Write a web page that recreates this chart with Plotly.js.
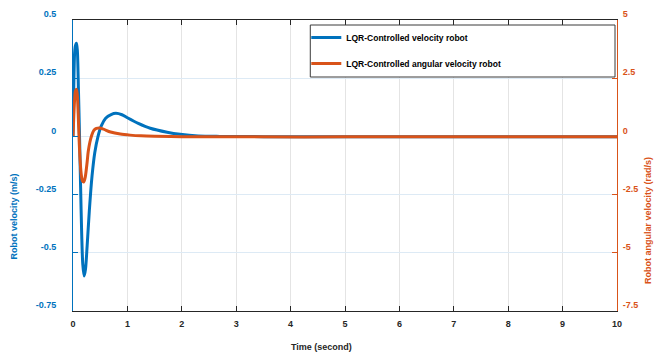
<!DOCTYPE html>
<html>
<head>
<meta charset="utf-8">
<script src="https://cdn.plot.ly/plotly-3.0.1.min.js"></script>
<style>html,body{margin:0;padding:0;background:#fff;}#chart{width:655px;height:356px;}</style>
</head>
<body>
<div id="chart"></div>
<script>
// ---- data ----
const timeVel = [0, 0.015, 0.03, 0.045, 0.064, 0.08, 0.10, 0.12, 0.14, 0.16, 0.18, 0.205, 0.23, 0.26, 0.30, 0.35, 0.40, 0.46, 0.52, 0.60, 0.70, 0.79, 0.90, 1.00, 1.20, 1.42, 1.73, 1.97, 2.3, 2.7, 3.5, 5, 7.5, 10];
const velocity = [0, 0.22, 0.36, 0.39, 0.40, 0.37, 0.20, 0.0, -0.22, -0.42, -0.55, -0.60, -0.57, -0.47, -0.32, -0.17, -0.07, 0.0, 0.045, 0.078, 0.094, 0.099, 0.093, 0.080, 0.056, 0.035, 0.018, 0.009, 0.002, 0.0, -0.001, -0.001, -0.001, -0.001];
const timeAng = [0, 0.015, 0.03, 0.045, 0.064, 0.08, 0.095, 0.11, 0.13, 0.15, 0.175, 0.20, 0.225, 0.26, 0.28, 0.31, 0.34, 0.38, 0.43, 0.49, 0.56, 0.69, 0.87, 1.05, 1.25, 1.5, 2.0, 3, 5, 10];
const angularVelocity = [0, 0.9, 1.6, 1.95, 2.02, 1.75, 1.0, 0.0, -1.0, -1.6, -1.92, -1.95, -1.75, -1.1, -0.65, -0.25, 0.02, 0.25, 0.34, 0.36, 0.31, 0.19, 0.10, 0.055, 0.025, 0.008, -0.01, -0.02, -0.02, -0.02];
const xTicks = [0, 1, 2, 3, 4, 5, 6, 7, 8, 9, 10];
const yTicks = [-0.75, -0.5, -0.25, 0, 0.25, 0.5];
const yTickText = ['-0.75', '-0.5', '-0.25', '0', '0.25', '0.5'];
const y2Ticks = [-7.5, -5, -2.5, 0, 2.5, 5];
const y2TickText = ['-7.5', '-5', '-2.5', '0', '2.5', '5'];
const seriesNames = ['LQR-Controlled velocity robot', 'LQR-Controlled angular velocity robot'];

const BLUE = '#0072BD', ORANGE = '#D95319', DARK = '#262626';
const FONT = '"Liberation Sans", Arial, sans-serif';

// plot area in pixels
const L = 72.5, R = 617, T = 20, B = 311, W = 655, H = 356;
const px = x => (x - L) / (R - L);
const py = y => (B - y) / (B - T);

const traces = [
  {x: timeVel, y: velocity, name: seriesNames[0], type: 'scatter', mode: 'lines',
   line: {color: BLUE, width: 3, shape: 'spline', smoothing: 0.8}, yaxis: 'y', legendgroup: 'a'},
  {x: timeAng, y: angularVelocity, name: seriesNames[1], type: 'scatter', mode: 'lines',
   line: {color: ORANGE, width: 3, shape: 'spline', smoothing: 0.8}, yaxis: 'y2', legendgroup: 'b'}
];

const layout = {
  width: W, height: H,
  margin: {l: L, r: W - R, t: T, b: H - B, pad: 0},
  paper_bgcolor: '#fff', plot_bgcolor: '#fff',
  font: {family: FONT, size: 9, color: DARK},
  showlegend: true,
  legend: {x: px(306), y: py(23), xanchor: 'left', yanchor: 'top', bgcolor: 'rgba(0,0,0,0)',
           borderwidth: 0, traceorder: 'grouped', tracegroupgap: 7,
           font: {family: FONT, size: 8.5, color: '#000', weight: 'bold'}},
  xaxis: {range: [0, 10], tickvals: xTicks, ticktext: xTicks.map(String),
          showgrid: true, gridcolor: '#e4e4e4', gridwidth: 1, zeroline: false,
          showline: true, linecolor: DARK, linewidth: 1, mirror: 'ticks',
          ticks: 'inside', ticklen: 5, tickcolor: DARK,
          tickfont: {family: FONT, size: 9, color: DARK, weight: 'bold'}, ticklabelstandoff: 4},
  yaxis: {range: [-0.75, 0.5], tickvals: yTicks, ticktext: yTickText,
          showgrid: true, gridcolor: '#ddeaf5', gridwidth: 1, zeroline: false,
          showline: true, linecolor: BLUE, linewidth: 1,
          ticks: 'inside', ticklen: 5, tickcolor: BLUE,
          tickfont: {family: FONT, size: 9, color: BLUE, weight: 'bold'},
          ticklabelstandoff: 14, ticklabelshift: -6},
  yaxis2: {range: [-7.5, 5], tickvals: y2Ticks, ticktext: y2TickText, overlaying: 'y', side: 'right',
           showgrid: false, zeroline: false, showline: true, linecolor: ORANGE, linewidth: 1,
           ticks: 'inside', ticklen: 5, tickcolor: ORANGE,
           tickfont: {family: FONT, size: 9, color: ORANGE, weight: 'bold'},
           ticklabelstandoff: 3, ticklabelshift: -6},
  shapes: [
    {type: 'rect', xref: 'paper', yref: 'paper', x0: px(310), x1: px(615), y0: py(77), y1: py(25),
     line: {color: '#3a3a3a', width: 1}, fillcolor: '#fff', layer: 'above'}
  ],
  annotations: [
    {text: 'Time (second)', xref: 'paper', yref: 'paper', x: px(321), y: py(347), showarrow: false,
     xanchor: 'center', yanchor: 'middle', font: {family: FONT, size: 9, color: DARK, weight: 'bold'}},
    {text: 'Robot velocity (m/s)', xref: 'paper', yref: 'paper', x: px(13), y: py(217), showarrow: false,
     textangle: -90, xanchor: 'center', yanchor: 'middle', font: {family: FONT, size: 9, color: BLUE, weight: 'bold'}},
    {text: 'Robot angular velocity (rad/s)', xref: 'paper', yref: 'paper', x: px(648), y: py(220), showarrow: false,
     textangle: -90, xanchor: 'center', yanchor: 'middle', font: {family: FONT, size: 9, color: ORANGE, weight: 'bold'}}
  ]
};

Plotly.newPlot('chart', traces, layout, {displayModeBar: false, staticPlot: true});
</script>
</body>
</html>
